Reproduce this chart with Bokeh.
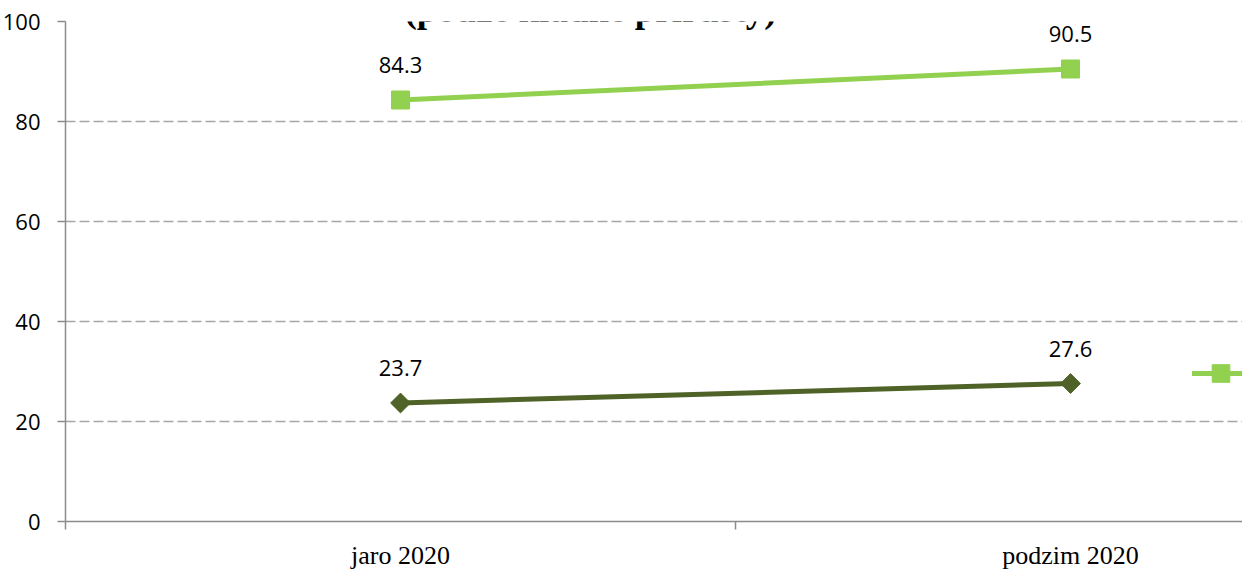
import math
from bokeh.plotting import figure
from bokeh.models import Range1d, FixedTicker, Label, Legend, LegendItem
from bokeh.core.properties import value
from bokeh.embed import file_html
from bokeh.resources import INLINE

# ---- data ----
categories = ["jaro 2020", "podzim 2020"]
light_values = [84.3, 90.5]
dark_values = [23.7, 27.6]
y_ticks = [0, 20, 40, 60, 80, 100]
title_text = "(pouze kladné přírůsty)"

x_pos = [i + 0.5 for i in range(len(categories))]
boundaries = [float(i) for i in range(len(categories) + 1)]

LIGHT = "#92D050"
DARK = "#4F6228"
AXIS = "#8C8C8C"
GRID = "#A6A6A6"

p = figure(
    frame_width=1177, frame_height=500,
    output_backend="svg", toolbar_location=None,
    x_range=Range1d(0, 1177 / 670), y_range=Range1d(0, 100),
    min_border_left=65, min_border_right=0,
    min_border_top=22, min_border_bottom=49,
)
p.styles = {"margin-top": "-1px", "margin-left": "-1px",
            "margin-bottom": "-60px", "margin-right": "-60px"}
p.outline_line_color = None
p.background_fill_color = "white"
p.border_fill_color = "white"

# x axis (category axis)
xa = p.xaxis[0]
xa.ticker = FixedTicker(ticks=x_pos, minor_ticks=boundaries)
xa.major_label_overrides = {xv: c for xv, c in zip(x_pos, categories)}
xa.major_tick_out = 0
xa.major_tick_in = 0
xa.minor_tick_out = 8
xa.minor_tick_in = 0
xa.minor_tick_line_color = AXIS
xa.minor_tick_line_width = 1.5
xa.axis_line_color = AXIS
xa.axis_line_width = 1.5
xa.major_label_standoff = 11
xa.major_label_text_font = "Liberation Serif"
xa.major_label_text_font_size = "26px"
xa.major_label_text_color = "black"

# y axis
ya = p.yaxis[0]
ya.ticker = FixedTicker(ticks=y_ticks, minor_ticks=[])
ya.major_tick_out = 8
ya.major_tick_in = 0
ya.major_tick_line_color = AXIS
ya.major_tick_line_width = 1.5
ya.axis_line_color = AXIS
ya.axis_line_width = 1.5
ya.major_label_standoff = 17
ya.major_label_text_font = "Open Sans"
ya.major_label_text_font_size = "22px"
ya.major_label_text_color = "black"

p.xgrid.visible = False
p.ygrid.ticker = FixedTicker(ticks=y_ticks, minor_ticks=[])
p.ygrid.grid_line_color = GRID
p.ygrid.grid_line_dash = "10 4"
p.ygrid.grid_line_width = 1.3

# series
l_dark = p.line(x_pos, dark_values, line_color=DARK, line_width=5)
m_dark = p.scatter(x_pos, dark_values, marker="square", angle=math.pi / 4,
                   size=14, fill_color=DARK, line_color=DARK)
l_light = p.line(x_pos, light_values, line_color=LIGHT, line_width=5, line_cap="round")
m_light = p.scatter(x_pos, light_values, marker="square", size=18,
                    fill_color=LIGHT, line_color=LIGHT)

# data labels
for vals in (light_values, dark_values):
    p.text(x_pos, vals, text=[f"{v:.1f}" for v in vals],
           text_align="center", text_baseline="middle", y_offset=-35,
           text_font=value("Open Sans"), text_font_size="22px", text_color="black")

# title (cut off at the top, as in the reference)
p.add_layout(Label(x=(590 - 65) / 670, y=102.4, text=title_text,
                   text_align="center", text_baseline="alphabetic",
                   text_font="Liberation Serif", text_font_style="bold",
                   text_font_size="37px", text_color="black"))

# legend (only its first swatch is visible at the right edge)
legend = Legend(items=[LegendItem(label="", renderers=[l_light, m_light])],
                location=(1127, 126), orientation="horizontal",
                glyph_width=57, glyph_height=44, padding=0, margin=0, spacing=0,
                border_line_color=None, background_fill_alpha=0,
                label_text_font_size="20px")
p.add_layout(legend)

open("out.html", "w").write(file_html(p, INLINE))
